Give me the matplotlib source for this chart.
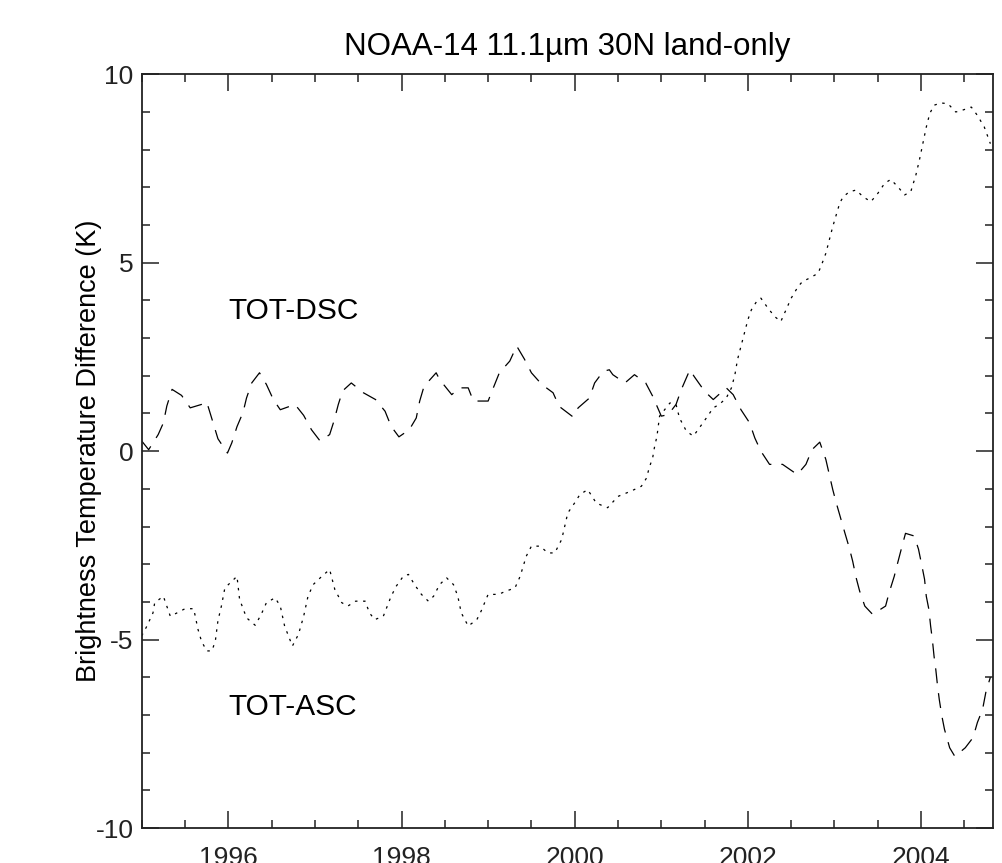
import matplotlib
matplotlib.use('Agg')
import matplotlib.pyplot as plt
from matplotlib.ticker import MultipleLocator

plt.rcParams['font.family'] = ['Liberation Sans', 'DejaVu Sans']
plt.rcParams['axes.unicode_minus'] = False

# TOT-DSC (dashed)
dsc_t = [1995.00, 1995.08, 1995.19, 1995.25, 1995.29, 1995.35, 1995.46, 1995.56, 1995.69, 1995.75,
         1995.83, 1995.88, 1995.99, 1996.04, 1996.10, 1996.17, 1996.21, 1996.27, 1996.36, 1996.44,
         1996.52, 1996.60, 1996.77, 1996.87, 1996.96, 1997.06, 1997.17, 1997.22, 1997.27, 1997.32,
         1997.42, 1997.56, 1997.70, 1997.81, 1997.88, 1997.97, 1998.09, 1998.17, 1998.21, 1998.26,
         1998.40, 1998.44, 1998.58, 1998.67, 1998.77, 1998.83, 1999.00, 1999.06, 1999.13, 1999.25,
         1999.33, 1999.42, 1999.50, 1999.62, 1999.75, 1999.82, 1999.98, 2000.04, 2000.17, 2000.23,
         2000.33, 2000.40, 2000.44, 2000.58, 2000.69, 2000.82, 2000.90, 2001.00, 2001.08, 2001.17,
         2001.23, 2001.33, 2001.38, 2001.50, 2001.60, 2001.75, 2001.83, 2001.92, 2002.02, 2002.08,
         2002.15, 2002.25, 2002.40, 2002.57, 2002.67, 2002.74, 2002.83, 2002.90, 2002.94, 2002.98,
         2003.02, 2003.07, 2003.12, 2003.17, 2003.21, 2003.25, 2003.29, 2003.35, 2003.44, 2003.59,
         2003.63, 2003.69, 2003.73, 2003.78, 2003.82, 2003.92, 2003.97, 2004.01, 2004.04, 2004.06,
         2004.09, 2004.11, 2004.13, 2004.15, 2004.17, 2004.19, 2004.21, 2004.24, 2004.27, 2004.33,
         2004.39, 2004.51, 2004.60, 2004.65, 2004.71, 2004.75, 2004.80]
dsc_v = [0.27, 0.04, 0.44, 0.75, 1.20, 1.64, 1.48, 1.15, 1.24, 1.31,
         0.71, 0.33, -0.05, 0.22, 0.65, 1.03, 1.41, 1.81, 2.08, 1.77,
         1.37, 1.10, 1.24, 0.95, 0.57, 0.27, 0.44, 0.80, 1.24, 1.60,
         1.81, 1.55, 1.37, 1.06, 0.66, 0.38, 0.57, 0.88, 1.33, 1.72,
         2.08, 1.90, 1.50, 1.68, 1.68, 1.33, 1.33, 1.68, 2.08, 2.39,
         2.79, 2.44, 2.08, 1.77, 1.55, 1.19, 0.91, 1.15, 1.41, 1.81,
         2.12, 2.16, 2.03, 1.81, 2.03, 1.81, 1.46, 0.93, 0.97, 1.24,
         1.63, 2.16, 1.98, 1.59, 1.37, 1.68, 1.50, 1.10, 0.75, 0.35,
         0.00, -0.35, -0.35, -0.62, -0.35, 0.04, 0.24, -0.22, -0.62, -1.02,
         -1.37, -1.77, -2.17, -2.56, -2.92, -3.36, -3.71, -4.11, -4.33, -4.11,
         -3.76, -3.32, -2.96, -2.52, -2.18, -2.25, -2.60, -3.05, -3.40, -3.85,
         -4.20, -4.64, -5.00, -5.45, -5.80, -6.23, -6.59, -7.03, -7.38, -7.87,
         -8.10, -7.87, -7.60, -7.20, -6.85, -6.37, -6.00]

# TOT-ASC (dotted)
asc_t = [1995.00, 1995.06, 1995.13, 1995.15, 1995.25, 1995.33, 1995.40, 1995.50, 1995.60, 1995.65,
         1995.69, 1995.75, 1995.81, 1995.85, 1995.88, 1995.92, 1995.96, 1996.10, 1996.13, 1996.21,
         1996.31, 1996.38, 1996.44, 1996.54, 1996.60, 1996.65, 1996.74, 1996.81, 1996.87, 1996.92,
         1996.98, 1997.08, 1997.17, 1997.23, 1997.31, 1997.38, 1997.47, 1997.58, 1997.63, 1997.69,
         1997.79, 1997.88, 1997.94, 1998.02, 1998.08, 1998.15, 1998.23, 1998.31, 1998.37, 1998.44,
         1998.52, 1998.60, 1998.65, 1998.69, 1998.77, 1998.87, 1998.92, 1999.00, 1999.12, 1999.21,
         1999.31, 1999.37, 1999.44, 1999.50, 1999.60, 1999.69, 1999.77, 1999.85, 1999.92, 2000.00,
         2000.06, 2000.15, 2000.25, 2000.38, 2000.50, 2000.65, 2000.77, 2000.83, 2000.86, 2000.90,
         2000.92, 2000.95, 2000.98, 2001.10, 2001.17, 2001.21, 2001.29, 2001.37, 2001.44, 2001.52,
         2001.60, 2001.67, 2001.75, 2001.81, 2001.85, 2001.88, 2001.92, 2001.96, 2002.00, 2002.04,
         2002.10, 2002.15, 2002.23, 2002.31, 2002.38, 2002.44, 2002.50, 2002.58, 2002.63, 2002.71,
         2002.81, 2002.85, 2002.90, 2002.94, 2002.98, 2003.02, 2003.06, 2003.10, 2003.17, 2003.25,
         2003.33, 2003.42, 2003.50, 2003.58, 2003.65, 2003.73, 2003.81, 2003.88, 2003.94, 2003.98,
         2004.02, 2004.06, 2004.10, 2004.15, 2004.23, 2004.31, 2004.40, 2004.48, 2004.58, 2004.65,
         2004.73, 2004.80]
asc_v = [-4.90, -4.64, -4.29, -4.02, -3.85, -4.38, -4.30, -4.18, -4.18, -4.73,
         -5.04, -5.30, -5.30, -5.04, -4.50, -4.11, -3.63, -3.32, -3.93, -4.42,
         -4.62, -4.33, -4.02, -3.89, -4.11, -4.64, -5.17, -4.86, -4.38, -3.85,
         -3.54, -3.32, -3.14, -3.67, -4.02, -4.11, -3.98, -3.98, -4.29, -4.47,
         -4.38, -3.85, -3.58, -3.32, -3.27, -3.54, -3.80, -3.98, -3.85, -3.54,
         -3.36, -3.54, -3.85, -4.29, -4.64, -4.47, -4.24, -3.80, -3.80, -3.71,
         -3.63, -3.32, -2.79, -2.52, -2.52, -2.70, -2.70, -2.34, -1.64, -1.37,
         -1.15, -1.02, -1.38, -1.50, -1.20, -1.06, -0.93, -0.71, -0.44, -0.18,
         0.09, 0.40, 0.93, 1.28, 1.24, 0.88, 0.53, 0.40, 0.62, 0.88,
         1.15, 1.24, 1.41, 1.68, 2.03, 2.43, 2.78, 3.13, 3.49, 3.75,
         3.97, 4.06, 3.80, 3.57, 3.44, 3.75, 4.06, 4.37, 4.50, 4.59,
         4.72, 4.94, 5.25, 5.60, 5.96, 6.27, 6.58, 6.75, 6.88, 6.93,
         6.75, 6.62, 6.84, 7.11, 7.21, 7.02, 6.80, 6.88, 7.33, 7.72,
         8.16, 8.60, 8.96, 9.18, 9.24, 9.22, 9.00, 9.05, 9.13, 8.91,
         8.60, 8.16]

fig = plt.figure(figsize=(10.03, 8.63), dpi=100)
ax = fig.add_axes([0.1413, 0.0405, 0.8487, 0.8734])

ax.plot(dsc_t, dsc_v, color='black', lw=0.9, linestyle=(0, (12, 8)))
ax.plot(asc_t, asc_v, color='black', lw=0.9, linestyle=(0, (2, 4.5)))

ax.text(1996.0, 3.5, 'TOT-DSC', fontsize=21.5)
ax.text(1996.0, -7.0, 'TOT-ASC', fontsize=21.5)

ax.set_xlim(1995.0, 2004.83)
ax.set_ylim(-10, 10)
ax.xaxis.set_major_locator(MultipleLocator(2))
ax.xaxis.set_minor_locator(MultipleLocator(0.5))
ax.yaxis.set_major_locator(MultipleLocator(5))
ax.yaxis.set_minor_locator(MultipleLocator(1))
ax.tick_params(which='both', direction='in', top=True, right=True, width=1.1, colors='#222222')
ax.tick_params(which='major', length=12)
ax.tick_params(which='minor', length=6)
ax.tick_params(axis='x', which='major', pad=13, labelsize=19)
ax.tick_params(axis='y', which='major', pad=6, labelsize=19)
for s in ax.spines.values():
    s.set_linewidth(1.3)
    s.set_color('#222222')

ax.set_ylabel('Brightness Temperature Difference (K)', fontsize=19.5)
ax.yaxis.set_label_coords(-0.047, 0.5)
ax.set_title('NOAA-14 11.1\u00b5m 30N land-only', fontsize=22.5, pad=14)

plt.savefig('out.png', dpi=100)
